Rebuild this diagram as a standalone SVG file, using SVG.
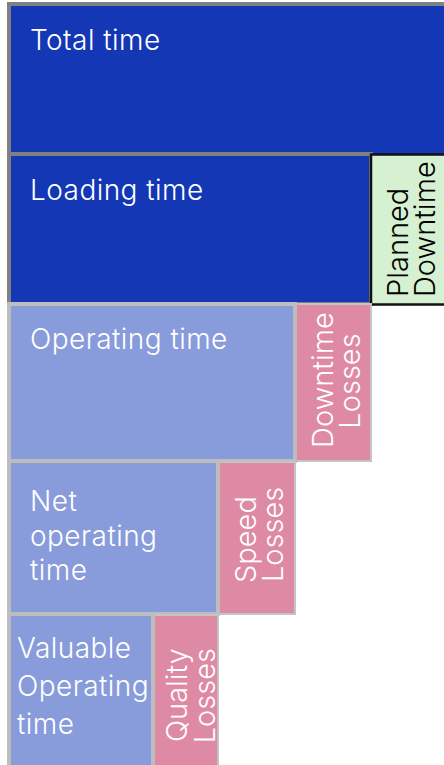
<svg xmlns="http://www.w3.org/2000/svg" width="444" height="765" viewBox="0 0 444 765">
  <style>
    text { font-family: Inter, "Noto Sans", "Liberation Sans", sans-serif; font-size: 28px; font-weight: 300; letter-spacing: 0.45px; }
    .v { font-size: 29px; letter-spacing: 0; }
    .dark { fill: #1337b5; stroke: #808080; stroke-width: 4; }
    .light { fill: #889bdb; stroke: #bdbdbd; stroke-width: 4; }
    .loss { fill: #de8aa5; stroke: #c4c4c4; stroke-width: 2; }
    .planned { fill: #d6f1d2; stroke: #111111; stroke-width: 2.5; }
    .w { fill: #ffffff; }
    .k { fill: #000000; }
  </style>
  <rect width="444" height="765" fill="#ffffff"/>

  <!-- row 1 -->
  <g id="total-time">
    <rect class="dark" x="9" y="4" width="500" height="200"/>
    <text class="w" x="30" y="50">Total time</text>
  </g>

  <!-- row 2 -->
  <g id="loading-time">
    <rect class="dark" x="9" y="154" width="362" height="150"/>
    <text class="w" x="30" y="200">Loading time</text>
  </g>
  <g id="planned-downtime">
    <rect class="planned" x="371" y="154.5" width="90" height="150"/>
    <text class="k v" transform="translate(408,297) rotate(-90)">Planned</text>
    <text class="k v" transform="translate(435,297) rotate(-90)">Downtime</text>
  </g>

  <!-- row 3 -->
  <g id="downtime-losses">
    <rect class="loss" x="296" y="304" width="75" height="157"/>
    <text class="w v" transform="translate(333.3,380) rotate(-90)" text-anchor="middle">Downtime</text>
    <text class="w v" transform="translate(360,381) rotate(-90)" text-anchor="middle">Losses</text>
  </g>
  <g id="operating-time">
    <rect class="light" x="9" y="304" width="286" height="157"/>
    <text class="w" x="30" y="349.3">Operating time</text>
  </g>

  <!-- row 4 -->
  <g id="speed-losses">
    <rect class="loss" x="219" y="462" width="76" height="152"/>
    <text class="w v" transform="translate(256,583) rotate(-90)">Speed</text>
    <text class="w v" transform="translate(283.3,582) rotate(-90)">Losses</text>
  </g>
  <g id="net-operating-time">
    <rect class="light" x="9" y="461" width="209" height="153"/>
    <text class="w" x="30" y="511">Net</text>
    <text class="w" x="30" y="545.7">operating</text>
    <text class="w" x="30" y="580">time</text>
  </g>

  <!-- row 5 -->
  <g id="quality-losses">
    <rect class="loss" x="154" y="615" width="64" height="200"/>
    <text class="w v" transform="translate(187,648) rotate(-90)" text-anchor="end">Quality</text>
    <text class="w v" transform="translate(215,648) rotate(-90)" text-anchor="end">Losses</text>
  </g>
  <g id="valuable-operating-time">
    <rect class="light" x="9" y="614" width="144" height="200"/>
    <text class="w" x="17" y="658.3">Valuable</text>
    <text class="w" x="17" y="696">Operating</text>
    <text class="w" x="17" y="734">time</text>
  </g>

  <g id="connectors"/>
</svg>
